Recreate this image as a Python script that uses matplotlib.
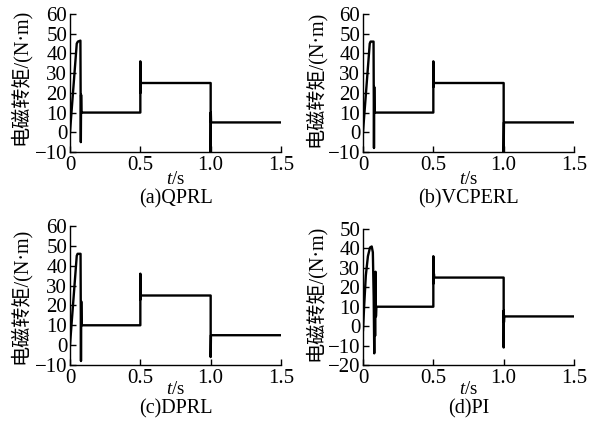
import matplotlib
matplotlib.use('Agg')
import matplotlib.pyplot as plt

plt.rcParams['font.family'] = ['Liberation Serif', 'Noto Sans CJK SC']
plt.rcParams['mathtext.fontset'] = 'custom'
plt.rcParams['mathtext.it'] = 'Liberation Serif:italic'
plt.rcParams['mathtext.rm'] = 'Liberation Serif'

# ---- data (time in s, torque in N*m) ----
ta = [0, 0.004, 0.048, 0.056, 0.074, 0.077, 0.079, 0.081, 0.5, 0.5, 0.501, 0.503, 1.0, 1.0, 1.001, 1.003, 1.5]
Ta = [0, 4, 45, 46, 46.5, -5, 19, 10, 10, 36, 20, 25, 25, -10, 10, 5, 5]

tb = [0, 0.004, 0.048, 0.054, 0.075, 0.078, 0.080, 0.082, 0.5, 0.5, 0.501, 0.503, 1.0, 1.0, 1.002, 1.5]
Tb = [0, 4, 45, 46, 46, -8, 23, 10, 10, 36, 23, 25, 25, -10, 5, 5]

tc = [0, 0.004, 0.048, 0.054, 0.075, 0.078, 0.080, 0.082, 0.5, 0.5, 0.501, 0.503, 1.0, 1.0, 1.002, 1.5]
Tc = [0, 4, 45, 46, 46, -8, 22, 10, 10, 36, 23, 25, 25, -6, 5, 5]

td = [0, 0.008, 0.02, 0.035, 0.05, 0.062, 0.07, 0.076, 0.080, 0.083, 0.086, 0.089, 0.092, 0.095,
      0.5, 0.5, 0.502, 0.504, 0.507, 1.0, 1.0, 1.001, 1.002, 1.004, 1.5]
Td = [-2, 10, 26, 36, 40.5, 41, 38, 15, -14, 20, -5, 28, 5, 10,
      10, 36, 22, 27, 25, 25, -11, 8, 2, 5, 5]

titles = ['(a)QPRL', '(b)VCPERL', '(c)DPRL', '(d)PI']
xticks = [0, 0.5, 1.0, 1.5]
xticklabels = ['0', '0.5', '1.0', '1.5']
yticks_abc = [-10, 0, 10, 20, 30, 40, 50, 60]
yticks_d = [-20, -10, 0, 10, 20, 30, 40, 50]

W, H = 593, 422
fig = plt.figure(figsize=[W/100, H/100], dpi=100)

# axes boxes in pixels: left, right, top, bottom
boxes = [(70, 281, 14, 152), (363, 574, 14, 152), (70, 281, 226, 365), (363, 574, 229, 365)]
data = [(ta, Ta, yticks_abc), (tb, Tb, yticks_abc), (tc, Tc, yticks_abc), (td, Td, yticks_d)]
xlabY = [180, 180, 389, 389]
subY = [199, 199, 409, 409]
ylabX = [20, 315, 20, 315]
ylabY = [77, 79, 296, 293]

for i in range(4):
    l, r, t, b = boxes[i]
    ax = fig.add_axes([l/W, 1-b/H, (r-l)/W, (b-t)/H])
    x, y, yt = data[i]
    ax.plot(x, y, 'k-', linewidth=1.7)
    ax.set_xlim(0, 1.5)
    ax.set_ylim(yt[0], yt[-1])
    ax.spines['top'].set_visible(False)
    ax.spines['right'].set_visible(False)
    ax.spines['left'].set_linewidth(1.0)
    ax.spines['bottom'].set_linewidth(1.0)
    ax.set_xticks(xticks)
    ax.set_xticklabels(xticklabels)
    ax.set_yticks(yt)
    ax.set_yticklabels([('\u2212' + str(-v)) if v < 0 else str(v) for v in yt])
    ax.tick_params(direction='in', length=4, width=1, labelsize=15, pad=2)
    ax.tick_params(axis='x', pad=3)
    cx = (l+r)/2/W
    fig.text(cx, 1-xlabY[i]/H, '$t$/s', fontsize=13.5, ha='center', va='center')
    fig.text(cx, 1-subY[i]/H, titles[i], fontsize=14.5, ha='center', va='center')
    fig.text(ylabX[i]/W, 1-ylabY[i]/H, '电磁转矩/(N·m)', fontsize=14.5, rotation=90,
             ha='center', va='center')

fig.savefig('out.png', dpi=100)
